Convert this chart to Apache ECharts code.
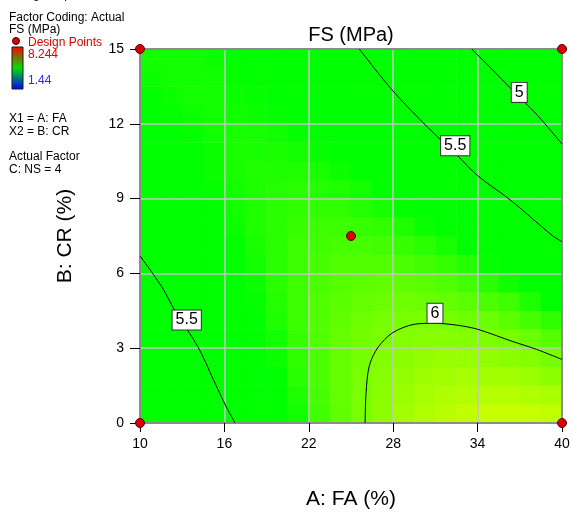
<!DOCTYPE html>
<html>
<head>
<meta charset="utf-8">
<script src="https://cdn.jsdelivr.net/npm/echarts@6/dist/echarts.min.js"></script>
<style>
  html, body { margin: 0; padding: 0; background: #fff; }
  #chart { width: 573px; height: 515px; }
</style>
</head>
<body>
<div id="chart"></div>
<script>
// Response surface of FS (MPa) over A: FA and B: CR, with C: NS held at 4.
const FONT = '"Liberation Sans", Arial, sans-serif';

// Axis ticks
const faTicks = [10, 16, 22, 28, 34, 40];
const crTicks = [0, 3, 6, 9, 12, 15];

// Cell centres of the 20 x 20 shaded grid
const cellFA = [10.75, 12.25, 13.75, 15.25, 16.75, 18.25, 19.75, 21.25, 22.75, 24.25,
                25.75, 27.25, 28.75, 30.25, 31.75, 33.25, 34.75, 36.25, 37.75, 39.25];
const cellCR = [0.375, 1.125, 1.875, 2.625, 3.375, 4.125, 4.875, 5.625, 6.375, 7.125,
                7.875, 8.625, 9.375, 10.125, 10.875, 11.625, 12.375, 13.125, 13.875, 14.625];

// Predicted FS (MPa) per cell; one row per CR cell, bottom row first
const fsRows = [
  [5.09,5.22,5.34,5.46,5.56,5.66,5.75,5.83,5.91,5.97,6.03,6.08,6.13,6.16,6.19,6.21,6.22,6.22,6.22,6.21],
  [5.15,5.28,5.39,5.50,5.60,5.69,5.77,5.85,5.92,5.98,6.03,6.07,6.11,6.14,6.16,6.17,6.18,6.18,6.16,6.15],
  [5.22,5.33,5.44,5.54,5.64,5.72,5.80,5.87,5.93,5.98,6.03,6.06,6.09,6.12,6.13,6.14,6.13,6.13,6.11,6.08],
  [5.28,5.39,5.49,5.58,5.67,5.75,5.82,5.88,5.93,5.98,6.02,6.05,6.07,6.09,6.10,6.10,6.09,6.07,6.05,6.02],
  [5.33,5.44,5.53,5.62,5.70,5.77,5.83,5.89,5.94,5.98,6.01,6.03,6.05,6.06,6.06,6.05,6.04,6.02,5.99,5.95],
  [5.39,5.48,5.57,5.65,5.72,5.79,5.85,5.90,5.94,5.97,6.00,6.02,6.03,6.03,6.02,6.01,5.99,5.96,5.92,5.88],
  [5.44,5.53,5.61,5.68,5.75,5.81,5.86,5.90,5.94,5.96,5.98,5.99,6.00,5.99,5.98,5.96,5.93,5.90,5.85,5.80],
  [5.48,5.57,5.64,5.71,5.77,5.82,5.87,5.90,5.93,5.95,5.96,5.97,5.97,5.96,5.94,5.91,5.87,5.83,5.78,5.72],
  [5.53,5.60,5.67,5.74,5.79,5.83,5.87,5.90,5.92,5.94,5.94,5.94,5.93,5.91,5.89,5.86,5.81,5.77,5.71,5.64],
  [5.57,5.64,5.70,5.76,5.80,5.84,5.87,5.90,5.91,5.92,5.92,5.91,5.89,5.87,5.84,5.80,5.75,5.70,5.63,5.56],
  [5.61,5.67,5.73,5.78,5.82,5.85,5.87,5.89,5.90,5.90,5.89,5.88,5.85,5.82,5.79,5.74,5.68,5.62,5.55,5.47],
  [5.64,5.70,5.75,5.79,5.83,5.85,5.87,5.88,5.88,5.88,5.86,5.84,5.81,5.77,5.73,5.68,5.62,5.55,5.47,5.38],
  [5.68,5.73,5.77,5.81,5.83,5.85,5.86,5.87,5.86,5.85,5.83,5.80,5.77,5.72,5.67,5.61,5.54,5.47,5.38,5.29],
  [5.71,5.75,5.79,5.82,5.84,5.85,5.85,5.85,5.84,5.82,5.79,5.76,5.72,5.67,5.61,5.54,5.47,5.39,5.30,5.20],
  [5.74,5.77,5.80,5.82,5.84,5.84,5.84,5.83,5.81,5.79,5.76,5.71,5.67,5.61,5.54,5.47,5.39,5.30,5.20,5.10],
  [5.76,5.79,5.81,5.83,5.84,5.84,5.83,5.81,5.79,5.75,5.71,5.67,5.61,5.55,5.48,5.40,5.31,5.21,5.11,5.00],
  [5.78,5.81,5.82,5.83,5.83,5.82,5.81,5.79,5.76,5.72,5.67,5.62,5.55,5.48,5.41,5.32,5.23,5.12,5.01,4.90],
  [5.80,5.82,5.83,5.83,5.82,5.81,5.79,5.76,5.72,5.68,5.62,5.56,5.49,5.42,5.33,5.24,5.14,5.03,4.91,4.79],
  [5.82,5.83,5.83,5.83,5.81,5.79,5.77,5.73,5.69,5.63,5.57,5.51,5.43,5.35,5.26,5.16,5.05,4.93,4.81,4.68],
  [5.83,5.83,5.83,5.82,5.80,5.77,5.74,5.70,5.65,5.59,5.52,5.45,5.36,5.27,5.18,5.07,4.96,4.84,4.71,4.57]
];

// Contour lines, [FA, CR] points
const contour5 = [[33.58,15],[35.0,14.2],[36.38,13.40],[38.27,12.33],[40,11.19]];
const contour55Upper = [[25.59,15],[27.96,13.33],[30.45,11.86],[32.58,10.72],[34.0,9.92],
                        [36.38,8.92],[39.33,7.51],[40,7.27]];
const contour55Lower = [[10,6.70],[10.95,5.96],[11.66,5.36],[12.37,4.62],[14.15,3.02],
                        [15.21,1.75],[16.04,0.75],[16.75,0]];
const contour6 = [[26.0,0],[26.07,1.21],[26.3,2.29],[26.9,3.02],[27.96,3.62],[29.5,3.96],
                  [30.92,4.0],[32.58,3.92],[34.0,3.76],[36.38,3.29],[38.2,2.95],[40,2.55]];

// Contour level tags: level and where the tag sits
const contourTags = [
  { level: 5,   at: [36.96, 13.26] },
  { level: 5.5, at: [32.41, 11.12] },
  { level: 5.5, at: [13.32, 4.13] },
  { level: 6,   at: [30.97, 4.40] }
];

// Design points
const designPoints = [[10,0],[10,15],[40,0],[40,15],[25,7.5]];

// Response range shown in the colour key
const fsMin = 1.44, fsMax = 8.244;

const heatData = [];
fsRows.forEach((row, j) => row.forEach((v, i) => heatData.push([i, j, v])));

const contourLine = (data) => ({
  type: 'line', data, xAxisIndex: 0, yAxisIndex: 0, showSymbol: false, symbol: 'none',
  smooth: 0.3, z: 6, silent: true, animation: false,
  lineStyle: { color: '#000', width: 1 }
});

const keyFont = '12px ' + FONT;

const chart = echarts.init(document.getElementById('chart'), null, { renderer: 'canvas' });
chart.setOption({
  animation: false,
  textStyle: { fontFamily: FONT },
  title: {
    text: 'FS (MPa)', left: 351, top: 25, textAlign: 'center', padding: 0,
    textStyle: { fontFamily: FONT, fontSize: 20, fontWeight: 'normal', color: '#000' }
  },
  grid: { left: 140, right: 11, top: 49, bottom: 92, containLabel: false },
  visualMap: {
    type: 'continuous', show: false, seriesIndex: 0, dimension: 2,
    min: 5.80, max: 6.40,
    inRange: { color: ['#00ff00', '#3cff00', '#6eff00', '#96ff00', '#beff00', '#e1ff00', '#ffff00'] }
  },
  xAxis: [
    {
      type: 'value', min: faTicks[0], max: faTicks[faTicks.length - 1], interval: 6, z: 5,
      name: 'A: FA (%)', nameLocation: 'middle', nameGap: 66,
      nameTextStyle: { fontFamily: FONT, fontSize: 21, color: '#000' },
      axisLine: { show: true, onZero: false, lineStyle: { color: '#8c8c8c', width: 2 } },
      axisTick: { show: true, length: 9, lineStyle: { color: '#000', width: 1 } },
      axisLabel: { color: '#000', fontSize: 14, margin: 14, fontFamily: FONT },
      splitLine: { show: true, lineStyle: { color: '#c4c4c4', width: 1.5 } }
    },
    { type: 'category', data: cellFA, show: false, gridIndex: 0 },
    {
      type: 'value', position: 'top', min: 10, max: 40, z: 5,
      axisLine: { show: true, onZero: false, lineStyle: { color: '#8c8c8c', width: 2 } },
      axisTick: { show: false }, axisLabel: { show: false }, splitLine: { show: false }
    }
  ],
  yAxis: [
    {
      type: 'value', min: crTicks[0], max: crTicks[crTicks.length - 1], interval: 3, z: 5,
      name: 'B: CR (%)', nameLocation: 'middle', nameGap: 64,
      nameTextStyle: { fontFamily: FONT, fontSize: 21, color: '#000' },
      axisLine: { show: true, onZero: false, lineStyle: { color: '#8c8c8c', width: 2 } },
      axisTick: { show: true, length: 10, lineStyle: { color: '#000', width: 1 } },
      axisLabel: { color: '#000', fontSize: 14, margin: 16, fontFamily: FONT },
      splitLine: { show: true, lineStyle: { color: '#c4c4c4', width: 1.5 } }
    },
    { type: 'category', data: cellCR, show: false, gridIndex: 0 },
    {
      type: 'value', position: 'right', min: 0, max: 15, z: 5,
      axisLine: { show: true, onZero: false, lineStyle: { color: '#8c8c8c', width: 2 } },
      axisTick: { show: false }, axisLabel: { show: false }, splitLine: { show: false }
    }
  ],
  series: [
    {
      type: 'heatmap', xAxisIndex: 1, yAxisIndex: 1, data: heatData, z: 1,
      silent: true, itemStyle: { borderWidth: 0 }
    },
    contourLine(contour5),
    contourLine(contour55Upper),
    contourLine(contour55Lower),
    contourLine(contour6),
    {
      type: 'scatter', xAxisIndex: 0, yAxisIndex: 0, z: 8, silent: true,
      symbol: 'circle', symbolSize: 1, itemStyle: { color: 'rgba(0,0,0,0)', opacity: 1 },
      data: contourTags.map(t => ({ value: [t.at[0], t.at[1], t.level] })),
      label: {
        show: true, position: 'inside', formatter: p => String(p.value[2]),
        fontFamily: FONT, fontSize: 16, color: '#000',
        backgroundColor: '#ffffff', borderColor: '#333', borderWidth: 1,
        padding: [2, 3, 1, 3]
      }
    },
    {
      type: 'scatter', xAxisIndex: 0, yAxisIndex: 0, z: 9, clip: false, silent: true,
      symbolSize: 9, data: designPoints,
      itemStyle: { color: '#d80000', borderColor: '#5a0000', borderWidth: 1, opacity: 1 }
    }
  ],
  graphic: [
    { type: 'text', left: 9, top: -11, style: { text: 'Design-Expert\u00ae Software', font: keyFont, fill: '#000' } },
    { type: 'text', left: 9, top: 12, style: { text: 'Factor Coding: Actual', font: keyFont, fill: '#000' } },
    { type: 'text', left: 9, top: 24, style: { text: 'FS (MPa)', font: keyFont, fill: '#000' } },
    { type: 'circle', shape: { cx: 16, cy: 41, r: 3.5 }, style: { fill: '#d80000', stroke: '#3a0000', lineWidth: 1 } },
    { type: 'text', left: 28, top: 37, style: { text: 'Design Points', font: keyFont, fill: '#e00000' } },
    {
      type: 'rect', shape: { x: 12, y: 47, width: 11, height: 42 },
      style: {
        stroke: '#1a1a1a', lineWidth: 1,
        fill: new echarts.graphic.LinearGradient(0, 0, 0, 1, [
          { offset: 0, color: '#ff0000' },
          { offset: 0.5, color: '#00e000' },
          { offset: 1, color: '#0000ff' }
        ])
      }
    },
    { type: 'text', left: 28, top: 49, style: { text: String(fsMax), font: keyFont, fill: '#e00000' } },
    { type: 'text', left: 28, top: 75, style: { text: String(fsMin), font: keyFont, fill: '#2a2aff' } },
    { type: 'text', left: 9, top: 113, style: { text: 'X1 = A: FA', font: keyFont, fill: '#000' } },
    { type: 'text', left: 9, top: 126, style: { text: 'X2 = B: CR', font: keyFont, fill: '#000' } },
    { type: 'text', left: 9, top: 151, style: { text: 'Actual Factor', font: keyFont, fill: '#000' } },
    { type: 'text', left: 9, top: 164, style: { text: 'C: NS = 4', font: keyFont, fill: '#000' } }
  ]
});
</script>
</body>
</html>
